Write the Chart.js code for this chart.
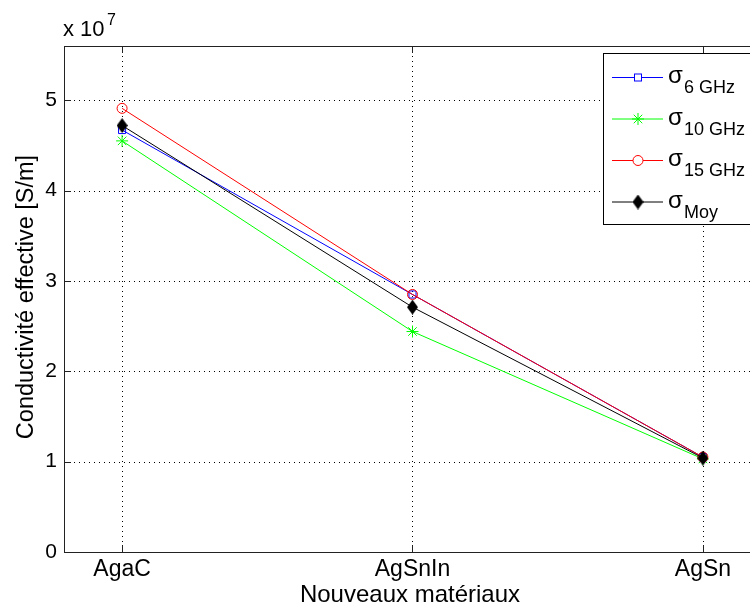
<!DOCTYPE html>
<html>
<head>
<meta charset="utf-8">
<script src="https://cdn.jsdelivr.net/npm/chart.js@4"></script>
<style>
  html, body { margin: 0; padding: 0; background: #fff; overflow: hidden; }
  #wrap { width: 800px; height: 611px; }
</style>
</head>
<body>
<div id="wrap"><canvas id="chart" width="800" height="611"></canvas></div>
<script>
// values are in units of 10^7 S/m
const categories = ['AgaC', 'AgSnIn', 'AgSn'];
const sigma6 = [4.67, 2.85, 1.05];
const sigma10 = [4.55, 2.44, 1.03];
const sigma15 = [4.91, 2.85, 1.05];
const sigmaMoy = [4.72, 2.71, 1.04];
const yTicks = [0, 1, 2, 3, 4, 5];
const exponent = '7';
const seriesSubs = ['6 GHz', '10 GHz', '15 GHz', 'Moy'];

const FONT = '"Liberation Sans", Arial, sans-serif';

function diamondImg(w, h, color) {
    const c = document.createElement('canvas');
    c.width = w; c.height = h;
    const g = c.getContext('2d');
    g.fillStyle = color;
    g.beginPath();
    g.moveTo(w / 2, 0); g.lineTo(w, h / 2); g.lineTo(w / 2, h); g.lineTo(0, h / 2);
    g.closePath();
    g.fill();
    return c;
}
const diamond = diamondImg(11, 15, '#000');

function toPoints(arr) {
    return arr.map((v, i) => ({ x: i + 1, y: v }));
}

const series = [
    { data: sigma6, color: '#0000ff', style: 'rect', radius: 5, fill: 'rgba(0,0,0,0)' },
    { data: sigma10, color: '#00ff00', style: 'star', radius: 6, fill: 'rgba(0,0,0,0)' },
    { data: sigma15, color: '#ff0000', style: 'circle', radius: 5, fill: 'rgba(0,0,0,0)' },
    { data: sigmaMoy, color: '#000000', style: diamond, radius: 6, fill: '#000' }
];

// grid, frame, inward ticks
const framePlugin = {
    id: 'frame',
    beforeDatasetsDraw(chart) {
        const { ctx, chartArea: a, scales: { x, y } } = chart;
        ctx.save();
        ctx.strokeStyle = '#000';
        ctx.lineWidth = 1;
        ctx.setLineDash([1, 4]);
        categories.forEach((c, i) => {
            const px = Math.round(x.getPixelForValue(i + 1)) + 0.5;
            ctx.beginPath(); ctx.moveTo(px, a.top); ctx.lineTo(px, a.bottom); ctx.stroke();
        });
        yTicks.slice(1).forEach(v => {
            const py = Math.round(y.getPixelForValue(v)) + 0.5;
            ctx.beginPath(); ctx.moveTo(a.left, py); ctx.lineTo(a.right, py); ctx.stroke();
        });
        ctx.setLineDash([]);
        ctx.strokeStyle = '#222';
        ctx.strokeRect(Math.round(a.left) + 0.5, Math.round(a.top) + 0.5,
            Math.round(a.right - a.left), Math.round(a.bottom - a.top));
        ctx.beginPath();
        const tl = 7;
        categories.forEach((c, i) => {
            const px = Math.round(x.getPixelForValue(i + 1)) + 0.5;
            ctx.moveTo(px, a.bottom); ctx.lineTo(px, a.bottom - tl);
            ctx.moveTo(px, a.top); ctx.lineTo(px, a.top + tl);
        });
        yTicks.forEach(v => {
            const py = Math.round(y.getPixelForValue(v)) + 0.5;
            ctx.moveTo(a.left, py); ctx.lineTo(a.left + tl, py);
            ctx.moveTo(a.right, py); ctx.lineTo(a.right - tl, py);
        });
        ctx.stroke();
        ctx.restore();
    },
    afterDraw(chart) {
        const { ctx } = chart;
        ctx.save();
        ctx.fillStyle = '#000';
        // axis titles
        ctx.font = '24px ' + FONT;
        ctx.textAlign = 'center';
        ctx.textBaseline = 'alphabetic';
        ctx.fillText('Nouveaux matériaux', 410, 602);
        ctx.save();
        ctx.translate(33, 297);
        ctx.rotate(-Math.PI / 2);
        ctx.font = '23.5px ' + FONT;
        ctx.fillText('Conductivité effective [S/m]', 0, 0);
        ctx.restore();
        // exponent
        ctx.textAlign = 'left';
        ctx.font = '22px ' + FONT;
        ctx.fillText('x 10', 63, 36);
        ctx.font = '16px ' + FONT;
        ctx.fillText(exponent, 107, 25);

        // legend
        const lx = 603.5, ly = 53.5;
        ctx.fillStyle = '#fff';
        ctx.fillRect(lx, ly, 190, 171);
        ctx.strokeStyle = '#000';
        ctx.lineWidth = 1;
        ctx.strokeRect(lx, ly, 190, 171);
        series.forEach((s, i) => {
            const base = 83 + i * 41.5;
            const cy = base - 5.5;
            ctx.strokeStyle = s.color;
            ctx.lineWidth = 1;
            ctx.beginPath(); ctx.moveTo(612, cy); ctx.lineTo(663, cy); ctx.stroke();
            drawMarker(ctx, s, 638, cy);
            ctx.fillStyle = '#000';
            ctx.font = '24px ' + FONT;
            ctx.fillText('σ', 668, base);
            ctx.font = '18px ' + FONT;
            ctx.fillText(seriesSubs[i], 684, base + 10);
        });
        ctx.restore();
    }
};

function drawMarker(ctx, s, x, y) {
    ctx.save();
    ctx.strokeStyle = s.color;
    ctx.lineWidth = 1;
    const r = s.radius;
    if (s.style === 'rect') {
        ctx.fillStyle = '#fff';
        ctx.fillRect(x - r + 1, y - r + 1, 2 * r - 2, 2 * r - 2);
        ctx.strokeRect(x - r + 1.5, y - r + 1.5, 2 * r - 3, 2 * r - 3);
    } else if (s.style === 'circle') {
        ctx.fillStyle = '#fff';
        ctx.beginPath(); ctx.arc(x, y, r, 0, Math.PI * 2); ctx.fill(); ctx.stroke();
    } else if (s.style === 'star') {
        ctx.beginPath();
        for (let k = 0; k < 4; k++) {
            const ang = k * Math.PI / 4;
            ctx.moveTo(x - r * Math.cos(ang), y - r * Math.sin(ang));
            ctx.lineTo(x + r * Math.cos(ang), y + r * Math.sin(ang));
        }
        ctx.stroke();
    } else {
        ctx.drawImage(s.style, x - s.style.width / 2, y - s.style.height / 2);
    }
    ctx.restore();
}

const ctx = document.getElementById('chart').getContext('2d');
new Chart(ctx, {
    type: 'line',
    data: {
        datasets: series.map((s, i) => ({
            label: 'σ ' + seriesSubs[i],
            data: toPoints(s.data),
            borderColor: s.color,
            borderWidth: 1,
            pointStyle: s.style,
            pointRadius: s.radius,
            pointBorderColor: s.color,
            pointBackgroundColor: s.fill,
            pointBorderWidth: 1,
            tension: 0,
            fill: false,
            order: 3 - i,
            clip: false
        }))
    },
    options: {
        responsive: false,
        animation: false,
        layout: { padding: { top: 46, right: 39, left: 0, bottom: 0 } },
        plugins: { legend: { display: false }, tooltip: { enabled: false } },
        scales: {
            x: {
                type: 'linear',
                min: 0.8,
                max: 3.2,
                afterBuildTicks: s => { s.ticks = categories.map((c, i) => ({ value: i + 1 })); },
                afterFit: s => { s.height = 611 - 552; },
                grid: { display: false, drawTicks: false },
                border: { display: false },
                ticks: {
                    color: '#000',
                    font: { family: FONT, size: 23 },
                    padding: 4,
                    maxRotation: 0,
                    callback: v => categories[Math.round(v) - 1] || ''
                }
            },
            y: {
                min: 0,
                max: 5.6,
                afterBuildTicks: s => { s.ticks = yTicks.map(v => ({ value: v })); },
                afterFit: s => { s.width = 64; },
                grid: { display: false, drawTicks: false },
                border: { display: false },
                ticks: {
                    color: '#000',
                    font: { family: FONT, size: 21 },
                    padding: 7,
                    callback: v => String(v)
                }
            }
        }
    },
    plugins: [framePlugin]
});
</script>
</body>
</html>
